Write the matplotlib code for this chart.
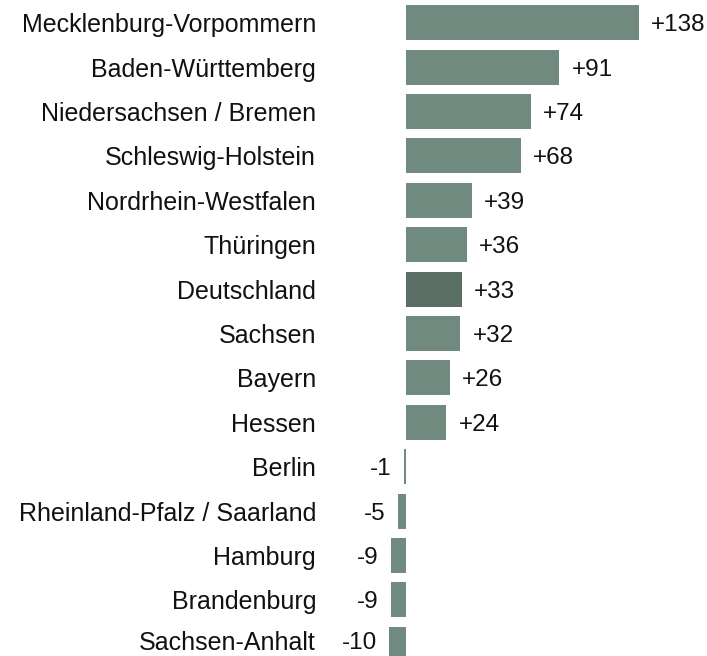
import matplotlib
matplotlib.use("Agg")
import matplotlib.pyplot as plt
from matplotlib.transforms import offset_copy

categories = ["Mecklenburg-Vorpommern", "Baden-Württemberg", "Niedersachsen / Bremen",
              "Schleswig-Holstein", "Nordrhein-Westfalen", "Thüringen", "Deutschland",
              "Sachsen", "Bayern", "Hessen", "Berlin", "Rheinland-Pfalz / Saarland",
              "Hamburg", "Brandenburg", "Sachsen-Anhalt"]
values = [138, 91, 74, 68, 39, 36, 33, 32, 26, 24, -1, -5, -9, -9, -10]
highlight = "Deutschland"

plt.rcParams['font.family'] = ['Liberation Sans', 'DejaVu Sans']

W, H, DPI = 707, 656, 100
fig = plt.figure(figsize=(W / DPI, H / DPI), dpi=DPI)
ax_left_px, ax_right_px = 340, 707
zero_px, px_per_unit = 406, 1.686
xmin = -(zero_px - ax_left_px) / px_per_unit
xmax = xmin + (ax_right_px - ax_left_px) / px_per_unit
ax = fig.add_axes([ax_left_px / W, 0, (ax_right_px - ax_left_px) / W, 1])

y0, pitch = 22.7, 44.4
ax.set_xlim(xmin, xmax)
ax.set_ylim((H - y0) / pitch, -y0 / pitch)

base = "#718a7f"
dark = "#5a6e65"
ys = list(range(len(categories)))
colors = [dark if c == highlight else base for c in categories]
ax.barh(ys, values, height=0.79, color=colors, edgecolor="none")

fs = 18
gap = 12.5 / px_per_unit
label_right = 316
n = len(categories)
for y, v, c in zip(ys, values, categories):
    # the last row is cut by the figure edge; its labels sit a little higher
    dy = 4.0 if y == n - 1 else 0.0
    tr = offset_copy(ax.transData, fig=fig, x=0, y=dy * 72 / DPI, units="points")
    if v >= 0:
        ax.text(v + gap, y, f"+{v}", ha="left", va="center_baseline", fontsize=17.5,
                color="#111111", transform=tr)
    else:
        ax.text(v - gap, y, f"{v}", ha="right", va="center_baseline", fontsize=17.5,
                color="#111111", transform=tr)
    xr = xmin - (ax_left_px - label_right) / px_per_unit
    ax.text(xr, y, c, ha="right", va="center_baseline", fontsize=fs,
            color="#111111", transform=tr, clip_on=False)

ax.set_yticks([])
ax.set_xticks([])
for s in ax.spines.values():
    s.set_visible(False)

fig.savefig("out.png", dpi=DPI)
